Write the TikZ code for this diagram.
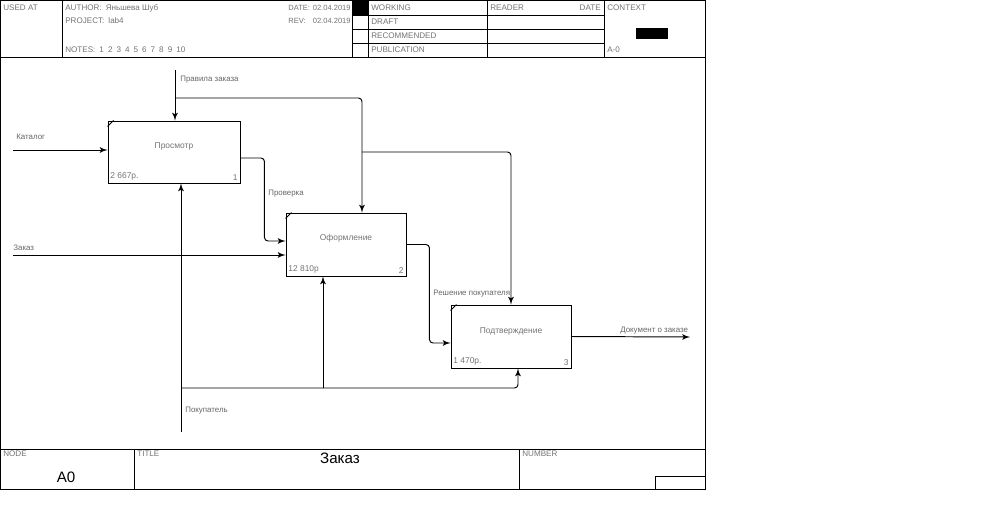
\documentclass[tikz,border=0pt]{standalone}
\usepackage{fontspec}
\setmainfont{Liberation Sans}
\usetikzlibrary{shapes,arrows,positioning}
\usepackage{xcolor}

\begin{document}
\begin{tikzpicture}[
    x=0.02cm, y=-0.02cm,
    frame/.style={draw=black, line width=0.55pt},
    hdr/.style={anchor=west, inner sep=0pt, text=black!55, font=\fontsize{4.6}{5}\selectfont},
    func/.style={rectangle, draw=black, line width=0.55pt, inner sep=0pt},
    ftext/.style={inner sep=0pt, text=black!55, font=\fontsize{4.8}{5}\selectfont},
    alabel/.style={anchor=west, inner sep=0pt, text=black!60, font=\fontsize{4.5}{5}\selectfont},
    line/.style={draw, line width=0.55pt, rounded corners=0.07cm, -latex'},
    big/.style={inner sep=0pt, font=\fontsize{8.6}{9}\selectfont}
  ]
    \useasboundingbox (0,0) rectangle (985,508);
    % frame, header and footer
    \draw[frame] (0,0) rectangle (705,489);
    \draw[frame] (0,57) -- (705,57);
    \draw[frame] (0,449) -- (705,449);
    \foreach \x in {62,352,368,487,604} \draw[frame] (\x,0) -- (\x,57);
    \foreach \y in {15,29,43} \draw[frame] (352,\y) -- (604,\y);
    \fill[black] (352,0) rectangle (368,15);
    \fill[black] (636,28) rectangle (668,39);
    \foreach \x in {134,519} \draw[frame] (\x,449) -- (\x,489);
    \draw[frame] (655,489) -- (655,476) -- (705,476);

    \node[hdr] (usedat) at (3,8) {USED AT};
    \node[hdr] (author) at (65,8) {AUTHOR:\enspace Яньшева Шуб};
    \node[hdr] (project) at (65,21) {PROJECT:\enspace lab4};
    \node[hdr] (notes) at (65,50) {NOTES:\enspace 1\enspace 2\enspace 3\enspace 4\enspace 5\enspace 6\enspace 7\enspace 8\enspace 9\enspace 10};
    \node[hdr, font=\fontsize{4.3}{5}\selectfont] (date) at (288,8) {DATE:};
    \node[hdr, anchor=east, font=\fontsize{4.3}{5}\selectfont] (dateval) at (351,8) {02.04.2019};
    \node[hdr, font=\fontsize{4.3}{5}\selectfont] (rev) at (288,21) {REV:};
    \node[hdr, anchor=east, font=\fontsize{4.3}{5}\selectfont] (revval) at (351,21) {02.04.2019};
    \node[hdr] (working) at (371,8) {WORKING};
    \node[hdr] (draft) at (371,22) {DRAFT};
    \node[hdr] (recommended) at (371,36) {RECOMMENDED};
    \node[hdr] (publication) at (371,50) {PUBLICATION};
    \node[hdr] (reader) at (490,8) {READER};
    \node[hdr, anchor=east] (rdate) at (601,8) {DATE};
    \node[hdr] (context) at (607,8) {CONTEXT};
    \node[hdr] (anode) at (607,50) {A-0};
    \node[hdr] (nodelbl) at (3,454) {NODE};
    \node[hdr] (titlelbl) at (137,454) {TITLE};
    \node[hdr] (numberlbl) at (522,454) {NUMBER};
    \node[big] (nodeno) at (66,477) {A0};
    \node[big] (title) at (340,458) {Заказ};

    % functions
    \node[func, minimum width=2.64cm, minimum height=1.24cm] (view) at (174,152) {};
    \node[func, minimum width=2.40cm, minimum height=1.26cm] (form) at (346,244.5) {};
    \node[func, minimum width=2.40cm, minimum height=1.26cm] (confirm) at (511,336.5) {};
    \foreach \b in {view,form,confirm}
      \draw[line width=0.5pt] ([yshift=-0.12cm]\b.north west) -- ([xshift=0.12cm]\b.north west);

    \node[ftext] at ([yshift=0.12cm]view.center) {Просмотр};
    \node[ftext, anchor=south west] at ([shift={(0.05cm,0.06cm)}]view.south west) {2 667р.};
    \node[ftext, anchor=south east] at ([shift={(-0.05cm,0.06cm)}]view.south east) {1};
    \node[ftext] at ([yshift=0.12cm]form.center) {Оформление};
    \node[ftext, anchor=south west] at ([shift={(0.05cm,0.06cm)}]form.south west) {12 810р};
    \node[ftext, anchor=south east] at ([shift={(-0.05cm,0.06cm)}]form.south east) {2};
    \node[ftext] at ([yshift=0.11cm]confirm.center) {Подтверждение};
    \node[ftext, anchor=south west] at ([shift={(0.05cm,0.06cm)}]confirm.south west) {1 470р.};
    \node[ftext, anchor=south east] at ([shift={(-0.05cm,0.06cm)}]confirm.south east) {3};

    % arrow ends
    \coordinate (katIn) at (13,150);
    \coordinate (orderIn) at (13,255);
    \coordinate (rulesIn) at (175,70);
    \coordinate (rulesA) at (175,98);
    \coordinate (rulesB) at (362,98);
    \coordinate (rulesC) at (362,152);
    \coordinate (buyerIn) at (181,432);
    \coordinate (buyerA) at (181,388);
    \coordinate (buyerB) at (323,388);
    \coordinate (buyerC) at (518,388);
    \coordinate (docOut) at (690,337);

    % inputs
    \path[line] (katIn) -- (katIn -| view.west);
    \path[line] (orderIn) -- (orderIn -| form.west);
    % controls
    \path[line] (rulesIn) -- (rulesIn |- view.north);
    \path[line] (rulesA) -- (rulesB) -- (rulesB |- form.north);
    \path[line] (rulesC) -- (rulesC -| confirm.north) -- (confirm.north);
    % mechanisms
    \path[line] (buyerIn) -- (buyerIn |- view.south);
    \path[line] (buyerA) -- (buyerC) -- (buyerC |- confirm.south);
    \path[line] (buyerB) -- (buyerB |- form.south);
    % outputs
    \path[line] ([yshift=-0.12cm]view.east) -- ++(24,0) |- ([yshift=0.07cm]form.west);
    \path[line] (form.east) -- ++(23,0) |- ([yshift=-0.13cm]confirm.west);
    \path[line] (confirm.east) -- (docOut);

    \node[alabel] at (16,137) {Каталог};
    \node[alabel] at (13,248) {Заказ};
    \node[alabel] at (180,80) {Правила заказа};
    \node[alabel] at (268,194) {Проверка};
    \node[alabel] at (433,294) {Решение покупателя};
    \node[alabel] at (620,331) {Документ о заказе};
    \node[alabel] at (185,411) {Покупатель};
\end{tikzpicture}
\end{document}
